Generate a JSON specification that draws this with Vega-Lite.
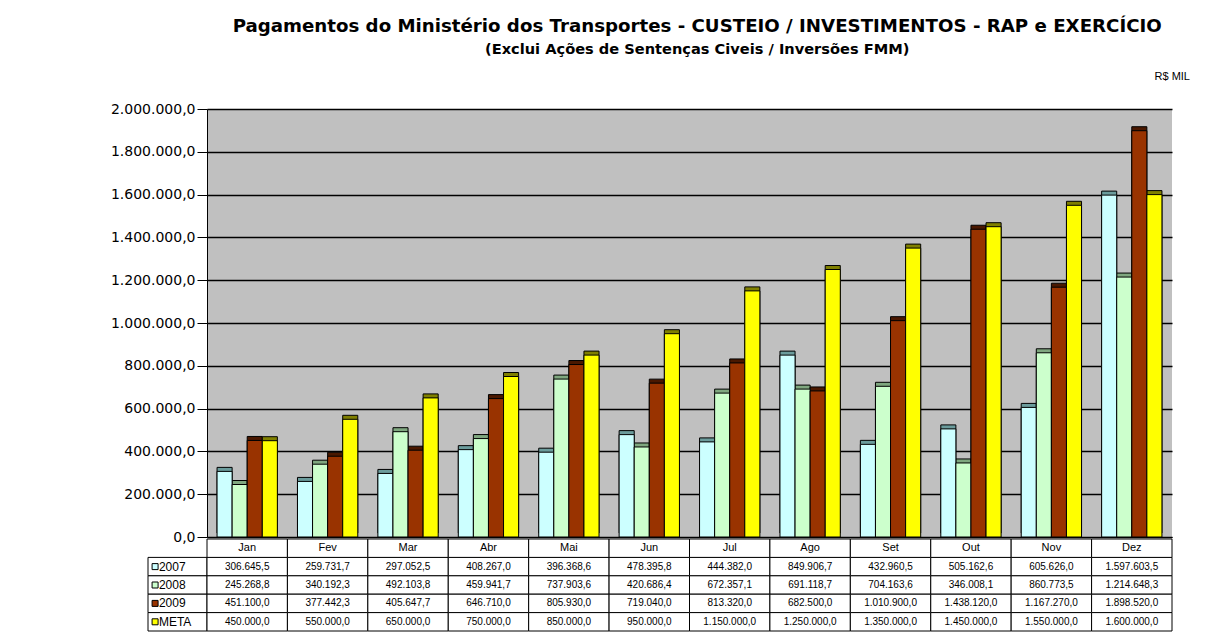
{
  "$schema": "https://vega.github.io/schema/vega-lite/v6.json",
  "autosize": {"type": "pad"},
  "padding": {"left": 110, "top": 17, "right": 5, "bottom": 5},
  "background": "white",
  "title": {
    "text": "Pagamentos do Ministério dos Transportes - CUSTEIO / INVESTIMENTOS - RAP e EXERCÍCIO",
    "subtitle": "(Exclui Ações de Sentenças Civeis / Inversões FMM)",
    "fontSize": 18.2, "fontWeight": "bold", "font": "DejaVu Sans", "color": "black",
    "subtitleFontSize": 14.6, "subtitleFontWeight": "bold", "subtitleFont": "DejaVu Sans", "subtitleColor": "black",
    "subtitlePadding": 6, "anchor": "middle", "dx": 47, "offset": 13
  },
  "datasets": {
    "pay": [
      {"month": "Jan", "series": "2007", "value": 306645.5},
      {"month": "Fev", "series": "2007", "value": 259731.7},
      {"month": "Mar", "series": "2007", "value": 297052.5},
      {"month": "Abr", "series": "2007", "value": 408267.0},
      {"month": "Mai", "series": "2007", "value": 396368.6},
      {"month": "Jun", "series": "2007", "value": 478395.8},
      {"month": "Jul", "series": "2007", "value": 444382.0},
      {"month": "Ago", "series": "2007", "value": 849906.7},
      {"month": "Set", "series": "2007", "value": 432960.5},
      {"month": "Out", "series": "2007", "value": 505162.6},
      {"month": "Nov", "series": "2007", "value": 605626.0},
      {"month": "Dez", "series": "2007", "value": 1597603.5},
      {"month": "Jan", "series": "2008", "value": 245268.8},
      {"month": "Fev", "series": "2008", "value": 340192.3},
      {"month": "Mar", "series": "2008", "value": 492103.8},
      {"month": "Abr", "series": "2008", "value": 459941.7},
      {"month": "Mai", "series": "2008", "value": 737903.6},
      {"month": "Jun", "series": "2008", "value": 420686.4},
      {"month": "Jul", "series": "2008", "value": 672357.1},
      {"month": "Ago", "series": "2008", "value": 691118.7},
      {"month": "Set", "series": "2008", "value": 704163.6},
      {"month": "Out", "series": "2008", "value": 346008.1},
      {"month": "Nov", "series": "2008", "value": 860773.5},
      {"month": "Dez", "series": "2008", "value": 1214648.3},
      {"month": "Jan", "series": "2009", "value": 451100.0},
      {"month": "Fev", "series": "2009", "value": 377442.3},
      {"month": "Mar", "series": "2009", "value": 405647.7},
      {"month": "Abr", "series": "2009", "value": 646710.0},
      {"month": "Mai", "series": "2009", "value": 805930.0},
      {"month": "Jun", "series": "2009", "value": 719040.0},
      {"month": "Jul", "series": "2009", "value": 813320.0},
      {"month": "Ago", "series": "2009", "value": 682500.0},
      {"month": "Set", "series": "2009", "value": 1010900.0},
      {"month": "Out", "series": "2009", "value": 1438120.0},
      {"month": "Nov", "series": "2009", "value": 1167270.0},
      {"month": "Dez", "series": "2009", "value": 1898520.0},
      {"month": "Jan", "series": "META", "value": 450000},
      {"month": "Fev", "series": "META", "value": 550000},
      {"month": "Mar", "series": "META", "value": 650000},
      {"month": "Abr", "series": "META", "value": 750000},
      {"month": "Mai", "series": "META", "value": 850000},
      {"month": "Jun", "series": "META", "value": 950000},
      {"month": "Jul", "series": "META", "value": 1150000},
      {"month": "Ago", "series": "META", "value": 1250000},
      {"month": "Set", "series": "META", "value": 1350000},
      {"month": "Out", "series": "META", "value": 1450000},
      {"month": "Nov", "series": "META", "value": 1550000},
      {"month": "Dez", "series": "META", "value": 1600000}
    ]
  },
  "data": {"name": "pay"},
  "columns": 2,
  "spacing": {"row": 2, "column": 0},
  "bounds": "flush",
  "concat": [
    {
      "width": 59, "height": 428,
      "data": {"values": [{"k": 1}]},
      "mark": {"type": "text"},
      "encoding": {"text": {"value": ""}}
    },
    {
      "width": 965, "height": 428,
      "view": {"fill": "#C0C0C0", "stroke": null},
      "title": {"text": "R$ MIL", "anchor": "end", "fontSize": 11, "fontWeight": "normal", "font": "Liberation Sans", "color": "black", "offset": 20, "dx": 18},
      "encoding": {
        "x": {"field": "month", "type": "ordinal",
          "scale": {"domain": ["Jan","Fev","Mar","Abr","Mai","Jun","Jul","Ago","Set","Out","Nov","Dez"], "paddingInner": 0.25, "paddingOuter": 0.125},
          "axis": {"title": null, "labels": false, "ticks": false, "domain": true, "domainColor": "black", "domainWidth": 1}},
        "xOffset": {"field": "series", "type": "nominal", "scale": {"paddingInner": 0, "paddingOuter": 0}},
        "y": {"field": "value", "type": "quantitative",
          "scale": {"domain": [0, 2000000], "nice": false},
          "axis": {"title": null, "values": [0,200000,400000,600000,800000,1000000,1200000,1400000,1600000,1800000,2000000],
            "format": ",.1f", "labelFontSize": 14, "labelColor": "black", "labelFont": "DejaVu Sans",
            "tickColor": "black", "tickSize": 10, "domainColor": "black", "labelPadding": 2,
            "grid": true, "gridColor": "black", "gridWidth": 1.5, "gridOpacity": 1}}
      },
      "layer": [
        {
          "mark": {"type": "bar", "xOffset": 9, "x2Offset": 9, "yOffset": -4, "y2Offset": -4, "stroke": "black", "strokeWidth": 1},
          "encoding": {
            "fill": {"field": "series", "type": "nominal",
              "scale": {"domain": ["2007","2008","2009","META"], "range": ["#6B9C9C","#7FA77F","#4A1800","#808000"]},
              "legend": null}
          }
        },
        {
          "mark": {"type": "bar", "xOffset": 4, "x2Offset": 4, "stroke": "black", "strokeWidth": 1},
          "encoding": {
            "color": {"field": "series", "type": "nominal",
              "scale": {"domain": ["2007","2008","2009","META"], "range": ["#CCFFFF","#CCFFCC","#993300","#FFFF00"]},
              "legend": null}
          }
        }
      ]
    },
    {
      "width": 59, "height": 92,
      "transform": [{"aggregate": [{"op": "count", "as": "n"}], "groupby": ["series"]}],
      "encoding": {
        "y": {"field": "series", "type": "ordinal",
          "scale": {"domain": ["hdr","2007","2008","2009","META"], "paddingInner": 0, "paddingOuter": 0}, "axis": null}
      },
      "layer": [
        {
          "mark": {"type": "rect", "fill": "white", "stroke": "black", "strokeWidth": 1},
          "encoding": {"x": {"value": 0}, "x2": {"value": "width"}}
        },
        {
          "mark": {"type": "point", "shape": "square", "filled": true, "stroke": "black", "strokeWidth": 1, "size": 36, "opacity": 1},
          "encoding": {
            "x": {"datum": 2.4, "type": "quantitative", "scale": {"domain": [0, 20]}, "axis": null},
            "color": {"field": "series", "type": "nominal",
              "scale": {"domain": ["2007","2008","2009","META"], "range": ["#CCFFFF","#CCFFCC","#993300","#FFFF00"]},
              "legend": null}
          }
        },
        {
          "mark": {"type": "text", "align": "left", "fontSize": 12, "font": "Liberation Sans", "color": "black"},
          "encoding": {
            "x": {"datum": 3.7, "type": "quantitative", "scale": {"domain": [0, 20]}, "axis": null},
            "text": {"field": "series"}
          }
        }
      ]
    },
    {
      "width": 965, "height": 92,
      "encoding": {
        "x": {"field": "month", "type": "ordinal",
          "scale": {"domain": ["Jan","Fev","Mar","Abr","Mai","Jun","Jul","Ago","Set","Out","Nov","Dez"], "paddingInner": 0, "paddingOuter": 0},
          "axis": null}
      },
      "layer": [
        {
          "mark": {"type": "rect", "fill": "white", "stroke": "black", "strokeWidth": 1},
          "encoding": {
            "y": {"field": "series", "type": "ordinal",
              "scale": {"domain": ["hdr","2007","2008","2009","META"], "paddingInner": 0, "paddingOuter": 0}, "axis": null}
          }
        },
        {
          "mark": {"type": "text", "fontSize": 10, "font": "Liberation Sans", "color": "black"},
          "encoding": {
            "y": {"field": "series", "type": "ordinal", "axis": null},
            "text": {"field": "value", "type": "quantitative", "format": ",.1f"}
          }
        },
        {
          "transform": [{"aggregate": [{"op": "count", "as": "n"}], "groupby": ["month"]}],
          "mark": {"type": "rect", "fill": "white", "stroke": "black", "strokeWidth": 1},
          "encoding": {"y": {"datum": "hdr", "type": "ordinal", "axis": null}}
        },
        {
          "transform": [{"aggregate": [{"op": "count", "as": "n"}], "groupby": ["month"]}],
          "mark": {"type": "text", "fontSize": 11, "font": "Liberation Sans", "color": "black"},
          "encoding": {"y": {"datum": "hdr", "type": "ordinal", "axis": null}, "text": {"field": "month"}}
        }
      ]
    }
  ],
  "config": {
    "locale": {"number": {"decimal": ",", "thousands": ".", "grouping": [3], "currency": ["R$ ", ""]}},
    "view": {"stroke": null},
    "font": "Liberation Sans"
  }
}
